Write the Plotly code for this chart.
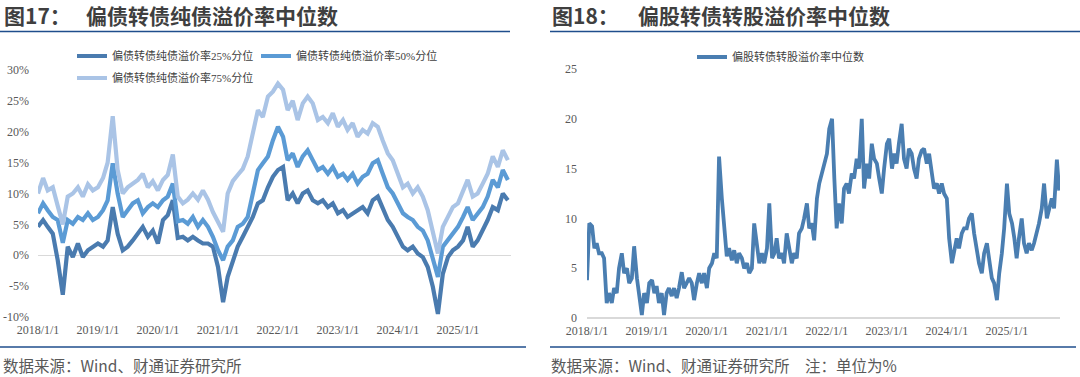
import pandas as pd
import plotly.graph_objects as go

# ---------------- data ----------------
# left chart: monthly readings, 2018-01 .. 2025-11
months = pd.date_range("2018-01-01", periods=95, freq="MS")
# right chart: semi-monthly readings (1st and 15th), 2018-01 .. 2025-11
half_months = pd.date_range("2018-01-01", "2025-11-20", freq="SMS")

p25 = [4.6, 5.7, 4.6, 3.5, -0.8, -6.4, 1.4, -0.3, 1.9, -0.3, 0.8, 1.4,
       1.9, 1.4, 2.4, 7.8, 3.5, 0.8, 1.4, 2.4, 3.5, 4.6, 3.0, 4.0,
       1.9, 5.7, 6.5, 8.9, 2.8, 3.0, 2.4, 3.0, 2.4, 1.9, 1.9, 1.4,
       -1.9, -7.6, -3.5, -0.8, 1.4, 3.0, 4.6, 6.2, 8.4, 8.9, 11.0, 12.7,
       13.8, 14.3, 8.9, 10.0, 8.4, 10.0, 10.5, 8.9, 8.4, 8.9, 7.8, 8.4,
       6.8, 7.3, 6.2, 6.8, 7.3, 7.8, 6.8, 8.9, 9.5, 7.8, 5.7, 4.6,
       3.0, 1.4, 0.8, 1.4, 0.3, -0.3, -1.9, -5.1, -9.5, -3.0, -0.3, 0.8,
       1.4, 2.4, 4.6, 1.4, 2.4, 4.0, 5.7, 7.8, 7.3, 10.0, 8.9]

p50 = [6.8, 8.4, 7.3, 6.2, 5.7, 2.0, 5.7, 5.1, 6.2, 5.7, 6.8, 5.7,
       6.2, 7.3, 8.9, 14.9, 10.0, 6.2, 7.3, 8.4, 8.9, 6.8, 7.8, 8.4,
       7.8, 8.9, 9.5, 11.6, 5.5, 5.7, 5.1, 6.2, 4.6, 5.7, 4.6, 3.0,
       0.8, -0.8, 1.4, 2.4, 4.6, 5.1, 6.2, 10.0, 13.8, 14.9, 16.0, 18.6,
       20.8, 19.2, 15.4, 16.5, 14.3, 16.0, 17.0, 15.4, 13.8, 14.3, 13.2, 14.3,
       12.7, 13.2, 12.2, 13.2, 11.6, 12.7, 13.2, 14.9, 15.4, 13.2, 11.0, 10.0,
       8.4, 6.8, 6.2, 5.7, 4.6, 4.0, 2.4, -0.5, -3.5, 1.4, 2.4, 3.5,
       4.6, 6.2, 7.8, 5.7, 6.8, 7.8, 9.5, 12.2, 11.0, 13.8, 12.2]

p75 = [10.0, 12.5, 10.5, 11.0, 8.0, 5.0, 9.5, 10.0, 11.0, 9.5, 11.5, 10.5,
       11.0, 12.5, 15.0, 22.5, 13.8, 10.0, 11.0, 11.5, 12.2, 13.2, 11.0, 12.0,
       10.5, 12.2, 13.0, 16.3, 9.5, 8.4, 9.0, 10.0, 9.0, 10.5, 9.0, 7.0,
       5.5, 3.8, 10.0, 12.0, 13.0, 14.0, 16.0, 19.7, 23.5, 22.4, 25.7, 26.5,
       27.8, 26.8, 23.5, 25.0, 21.9, 24.6, 25.7, 24.6, 21.9, 22.4, 21.4, 23.0,
       20.8, 21.9, 20.3, 21.4, 19.2, 20.3, 19.7, 21.4, 20.8, 18.6, 16.5, 15.4,
       13.2, 11.0, 11.6, 10.0, 11.0, 9.5, 7.3, 3.5, 0.3, 4.6, 6.2, 7.8,
       8.4, 10.5, 12.2, 9.5, 10.0, 11.6, 13.2, 16.0, 14.3, 17.0, 15.4]

conv = [3.8, 9.5, 9.2, 7.0, 7.5, 6.5, 6.5, 6.0, 1.5, 2.5, 1.5, 3.0,
        2.5, 5.0, 6.5, 4.5, 5.0, 3.5, 4.0, 7.2, 4.0, 2.0, 0.3, 2.5,
        1.5, 3.5, 3.8, 2.5, 3.2, 1.5, 2.5, 0.3, 2.5, 3.0, 2.2, 3.0,
        2.0, 3.0, 4.6, 3.0, 3.5, 4.0, 3.5, 1.8, 3.5, 4.5, 3.5, 4.5,
        3.0, 5.0, 5.5, 6.5, 6.0, 16.2, 12.0, 9.0, 6.2, 7.0, 5.8, 6.8,
        5.5, 6.5, 6.0, 5.0, 5.5, 4.5, 5.0, 9.5, 7.0, 5.5, 6.5, 5.5,
        7.0, 11.5, 6.0, 6.5, 8.0, 6.0, 6.5, 5.5, 8.5, 7.0, 5.5, 6.5,
        6.0, 8.5, 9.0, 10.0, 11.5, 9.0, 9.5, 7.8, 12.0, 13.5, 14.5, 15.5,
        16.5, 19.0, 20.0, 14.0, 9.0, 11.5, 9.5, 13.0, 13.5, 12.5, 14.5, 14.0,
        16.0, 15.0, 20.0, 13.0, 15.5, 14.0, 17.5, 16.0, 15.5, 14.0, 12.5, 15.0,
        17.5, 18.0, 15.0, 16.5, 15.5, 17.5, 19.5, 16.0, 15.0, 17.0, 16.5, 15.0,
        14.0, 16.0, 16.8, 17.0, 15.5, 16.5, 14.5, 13.0, 13.5, 12.5, 13.5, 12.5,
        12.0, 8.0, 5.5, 7.0, 8.0, 7.0, 8.5, 9.0, 9.0, 10.0, 10.5, 8.5,
        7.0, 5.5, 4.5, 6.5, 7.5, 5.5, 4.0, 3.5, 1.8, 4.5, 6.5, 9.0,
        13.5, 10.5, 9.5, 8.0, 6.0, 8.0, 10.0, 7.5, 6.5, 7.5, 6.8, 7.5,
        8.5, 9.5, 11.0, 13.5, 10.0, 11.0, 12.0, 11.0, 15.9, 12.8]

year_ticks = ["2018-01-01", "2019-01-01", "2020-01-01", "2021-01-01",
              "2022-01-01", "2023-01-01", "2024-01-01", "2025-01-01"]
year_labels = ["2018/1/1", "2019/1/1", "2020/1/1", "2021/1/1",
               "2022/1/1", "2023/1/1", "2024/1/1", "2025/1/1"]
left_yticks = [-10, -5, 0, 5, 10, 15, 20, 25, 30]
left_ylabels = ["-10%", "-5%", "0%", "5%", "10%", "15%", "20%", "25%", "30%"]
right_yticks = [0, 5, 10, 15, 20, 25]
right_ylabels = ["0", "5", "10", "15", "20", "25"]

names = ["偏债转债纯债溢价率25%分位", "偏债转债纯债溢价率50%分位",
         "偏债转债纯债溢价率75%分位", "偏股转债转股溢价率中位数"]

# ---------------- styling ----------------
W, H = 1080, 377
def fx(px):
    return px / W
def fy(py):
    return 1 - py / H

C25, C50, C75, CR = "#4A7BAF", "#5B9BD5", "#AAC4E6", "#4A7EB1"
TICKFONT = dict(family="Liberation Serif, Noto Sans CJK SC", size=12, color="#595959")
LEGFONT = dict(family="Liberation Serif, Noto Sans CJK SC", size=11, color="#404040")
TITLEFONT = dict(family="Noto Sans CJK SC", size=21, color="#3F3F3F")
SRCFONT = dict(family="Noto Sans CJK SC", size=15.5, color="#595959")
BLUE = "#1F4E8C"
X_END = "2025-11-20"
LW = 4.2

fig = go.Figure()
fig.add_trace(go.Scatter(x=months, y=p25, mode="lines", name=names[0],
                         line=dict(color=C25, width=LW), legend="legend",
                         xaxis="x", yaxis="y"))
fig.add_trace(go.Scatter(x=months, y=p50, mode="lines", name=names[1],
                         line=dict(color=C50, width=LW), legend="legend",
                         xaxis="x", yaxis="y"))
fig.add_trace(go.Scatter(x=months, y=p75, mode="lines", name=names[2],
                         line=dict(color=C75, width=LW), legend="legend2",
                         xaxis="x", yaxis="y"))
fig.add_trace(go.Scatter(x=half_months, y=conv, mode="lines", name=names[3],
                         line=dict(color=CR, width=3.8), legend="legend3",
                         xaxis="x2", yaxis="y2"))

axis_common = dict(showgrid=False, ticks="", tickfont=TICKFONT, showline=False,
                   automargin=False, fixedrange=True)

fig.update_layout(
    width=W, height=H,
    margin=dict(l=0, r=0, t=0, b=0, autoexpand=False),
    paper_bgcolor="white", plot_bgcolor="white",
    xaxis=dict(domain=[fx(38), fx(511)], range=["2018-01-01", X_END],
               tickvals=year_ticks, ticktext=year_labels, anchor="y",
               zeroline=False, ticklabelstandoff=4, **axis_common),
    yaxis=dict(domain=[fy(317), fy(70)], range=[-10, 30], anchor="x",
               tickvals=left_yticks, ticktext=left_ylabels,
               zeroline=True, zerolinecolor="#D9D9D9", zerolinewidth=1.3,
               ticklabelstandoff=8, **axis_common),
    xaxis2=dict(domain=[fx(587), fx(1060)], range=["2018-01-01", X_END],
                tickvals=year_ticks, ticktext=year_labels, anchor="y2",
                zeroline=False, ticklabelstandoff=4, **axis_common),
    yaxis2=dict(domain=[fy(318), fy(69)], range=[0, 25], anchor="x2",
                tickvals=right_yticks, ticktext=right_ylabels,
                zeroline=True, zerolinecolor="#D9D9D9", zerolinewidth=1.3,
                ticklabelstandoff=9, **axis_common),
    legend=dict(x=fx(72), y=fy(56), xanchor="left", yanchor="middle",
                orientation="h", entrywidth=139, entrywidthmode="pixels",
                font=LEGFONT, bgcolor="rgba(0,0,0,0)", itemwidth=30),
    legend2=dict(x=fx(72), y=fy(78), xanchor="left", yanchor="middle",
                 orientation="h", font=LEGFONT, bgcolor="rgba(0,0,0,0)", itemwidth=30),
    legend3=dict(x=fx(692), y=fy(57), xanchor="left", yanchor="middle",
                 orientation="h", font=LEGFONT, bgcolor="rgba(0,0,0,0)", itemwidth=30),
    showlegend=True,
)

annotations = [
    dict(text="<b>图17：</b>", x=fx(2), y=fy(15), xanchor="left", yanchor="middle", font=TITLEFONT),
    dict(text="<b>偏债转债纯债溢价率中位数</b>", x=fx(84), y=fy(15), xanchor="left", yanchor="middle", font=TITLEFONT),
    dict(text="<b>图18：</b>", x=fx(550), y=fy(15), xanchor="left", yanchor="middle", font=TITLEFONT),
    dict(text="<b>偏股转债转股溢价率中位数</b>", x=fx(636), y=fy(15), xanchor="left", yanchor="middle", font=TITLEFONT),
    dict(text="数据来源：Wind、财通证券研究所", x=fx(1), y=fy(365), xanchor="left", yanchor="middle", font=SRCFONT),
    dict(text="数据来源：Wind、财通证券研究所　注：单位为%", x=fx(549), y=fy(365), xanchor="left", yanchor="middle", font=SRCFONT),
]
for a in annotations:
    a.update(xref="paper", yref="paper", showarrow=False)
fig.update_layout(annotations=annotations)

shapes = []
for (x0, x1, y) in [(0, 510, 31.5), (550, 1080, 31.5), (0, 526, 347), (550, 1076, 347)]:
    shapes.append(dict(type="line", xref="paper", yref="paper",
                       x0=fx(x0), x1=fx(x1), y0=fy(y), y1=fy(y),
                       line=dict(color=BLUE, width=1.6)))
fig.update_layout(shapes=shapes)

fig.write_html("out.html",
               config={"displayModeBar": False, "staticPlot": True},
               post_script="document.body.style.margin='0px';document.body.style.padding='0px';document.body.style.overflow='hidden';")
